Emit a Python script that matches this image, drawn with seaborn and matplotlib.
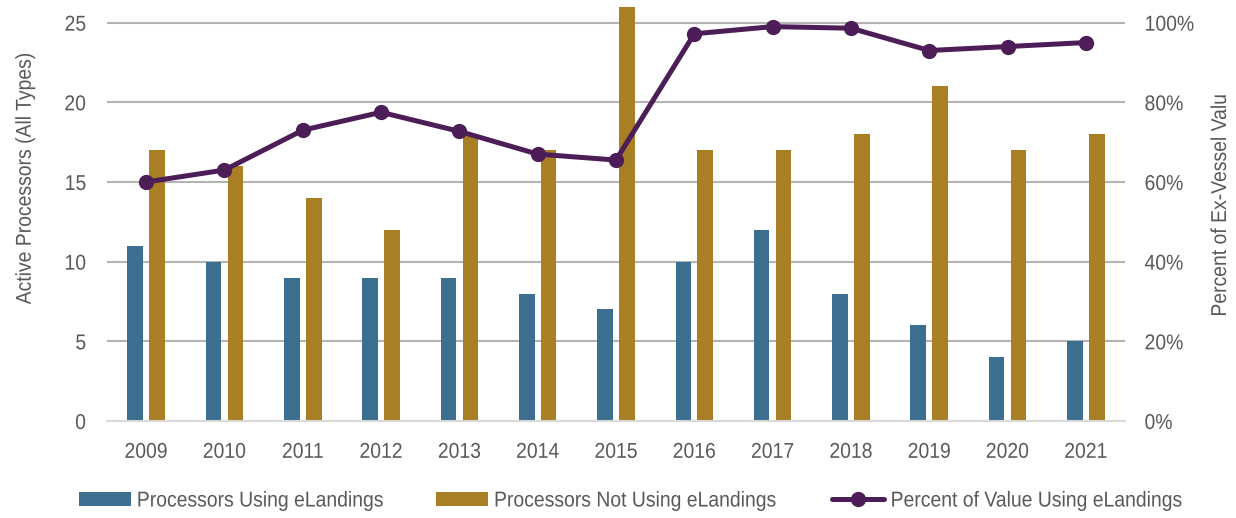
import numpy as np
import pandas as pd
import matplotlib
matplotlib.use("Agg")
import matplotlib.pyplot as plt
from matplotlib.patches import Patch
from matplotlib.lines import Line2D
from matplotlib.ticker import PercentFormatter
from matplotlib.patheffects import AbstractPathEffect
from matplotlib.transforms import Affine2D
import seaborn as sns

years = ["2009", "2010", "2011", "2012", "2013", "2014", "2015",
         "2016", "2017", "2018", "2019", "2020", "2021"]
using_elandings = [11, 10, 9, 9, 9, 8, 7, 10, 12, 8, 6, 4, 5]
not_using_elandings = [17, 16, 14, 12, 18, 17, 26, 17, 17, 18, 21, 17, 18]
pct_value_using = [0.60, 0.63, 0.73, 0.775, 0.727, 0.67, 0.655,
                   0.972, 0.99, 0.986, 0.93, 0.94, 0.95]

series_names = ["Processors Using eLandings", "Processors Not Using eLandings"]
line_name = "Percent of Value Using eLandings"

BLUE = "#3B6E8F"
GOLD = "#A97F26"
PURPLE = "#4C1D56"
TEXT = "#595959"
GRID = "#B3B3B3"
FS = 15.5


class Condense(AbstractPathEffect):
    """Draw text glyphs narrower along the baseline, keeping one anchor fixed."""

    def __init__(self, sx=0.9, anchor=0.5):
        super().__init__()
        self.sx = sx
        self.anchor = anchor

    def draw_path(self, renderer, gc, tpath, affine, rgbFace=None):
        ext = tpath.get_extents()
        x0 = ext.x0 + self.anchor * ext.width
        t = Affine2D().translate(-x0, 0).scale(self.sx, 1).translate(x0, 0) + affine
        renderer.draw_path(gc, tpath, t, rgbFace)


sns.set_theme(style="white")
plt.rcParams["font.family"] = ["Liberation Sans", "DejaVu Sans"]
plt.rcParams["font.size"] = FS

df = pd.DataFrame({
    "year": years * 2,
    "count": using_elandings + not_using_elandings,
    "series": [series_names[0]] * len(years) + [series_names[1]] * len(years),
})

fig = plt.figure(figsize=(12.36, 5.18), dpi=100)
ax = fig.add_axes([107 / 1236, 1 - 421 / 518, (1125 - 107) / 1236, (421 - 6.7) / 518])

sns.barplot(data=df, x="year", y="count", hue="series", order=years,
            hue_order=series_names, palette=[BLUE, GOLD], width=0.56, gap=0.29,
            saturation=1, ax=ax, legend=False, linewidth=0)

ax.set_ylim(0, 26)
ax.set_xlim(-0.5, len(years) - 0.5)
ax.set_yticks([0, 5, 10, 15, 20, 25])
ax.yaxis.grid(True, color=GRID, linewidth=1.5)
ax.set_axisbelow(True)
for side in ["top", "left", "right"]:
    ax.spines[side].set_visible(False)
ax.spines["bottom"].set_color("#D9D9D9")
ax.spines["bottom"].set_linewidth(1.5)
ax.tick_params(axis="y", length=0, pad=15, labelsize=FS, labelcolor=TEXT)
ax.tick_params(axis="x", length=0, pad=15, labelsize=FS, labelcolor=TEXT)
ax.set_xlabel("")
ax.set_ylabel("Active Processors (All Types)", fontsize=FS, color=TEXT)
ax.yaxis.set_label_coords(-0.070, 0.585)

ax2 = ax.twinx()
sns.lineplot(x=np.arange(len(years)), y=pct_value_using, ax=ax2, color=PURPLE,
             linewidth=3.6, marker="o", markersize=11, markeredgewidth=0,
             legend=False)
ax2.set_ylim(0, 1.04)
ax2.set_yticks([0, 0.2, 0.4, 0.6, 0.8, 1.0])
ax2.yaxis.set_major_formatter(PercentFormatter(1.0, decimals=0))
ax2.grid(False)
for side in ["top", "left", "right", "bottom"]:
    ax2.spines[side].set_visible(False)
ax2.tick_params(axis="y", length=0, pad=14, labelsize=FS, labelcolor=TEXT)
ax2.set_ylabel("Percent of Ex-Vessel Valu", fontsize=FS, color=TEXT)
ax2.yaxis.set_label_coords(1.0835, 0.52)

handles = [
    Patch(facecolor=BLUE, edgecolor="none"),
    Patch(facecolor=GOLD, edgecolor="none"),
    Line2D([0], [0], color=PURPLE, linewidth=3.6, marker="o", markersize=11,
           markeredgewidth=0),
]
leg = fig.legend(handles, series_names + [line_name], loc="center",
                 bbox_to_anchor=(646 / 1236, 1 - 501 / 518), ncol=3, frameon=False,
                 fontsize=FS, handlelength=2.42, handleheight=0.6,
                 handletextpad=0.28, columnspacing=1.2, labelcolor=TEXT)

# narrower glyphs for all chart text
fig.canvas.draw()
for t in ax.get_xticklabels():
    t.set_path_effects([Condense(0.9, 0.5)])
for t in ax.get_yticklabels():
    t.set_path_effects([Condense(0.9, 1.0)])
for t in ax2.get_yticklabels():
    t.set_path_effects([Condense(0.9, 0.0)])
ax.yaxis.label.set_path_effects([Condense(0.9, 0.5)])
ax2.yaxis.label.set_path_effects([Condense(0.9, 0.5)])
for t in leg.get_texts():
    t.set_path_effects([Condense(0.9, 0.0)])

fig.savefig("out.png", dpi=100)
